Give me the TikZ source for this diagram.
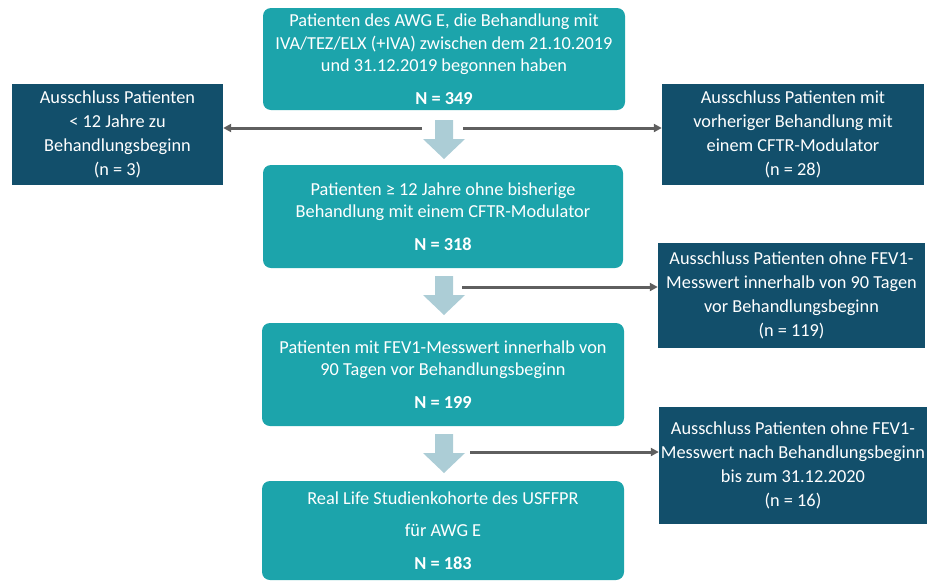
\documentclass[tikz,border=0pt]{standalone}
\usepackage{fontspec}
\setmainfont{Carlito}
\usetikzlibrary{arrows.meta}
\definecolor{mainteal}{RGB}{28,164,171}
\definecolor{exclblue}{RGB}{18,79,107}
\definecolor{flowgray}{RGB}{95,95,95}
\definecolor{arrowlight}{RGB}{172,205,214}
\tikzset{
  mainbox/.style={fill=mainteal, text=white, rounded corners=8pt, align=center, inner sep=0pt, font=\fontsize{18.3}{22.5}\selectfont},
  exclbox/.style={fill=exclblue, text=white, align=center, inner sep=0pt, font=\fontsize{18.3}{24}\selectfont},
  exclline/.style={draw=flowgray, line width=3pt, -{Triangle[length=8pt,width=8pt]}}
}
\begin{document}
\begin{tikzpicture}[x=1pt,y=-1pt]
\useasboundingbox (0,0) rectangle (932,582);
\node[mainbox, minimum width=362pt, minimum height=102pt] (start) at (444,59) {Patienten des AWG E, die Behandlung mit\\IVA/TEZ/ELX (+IVA) zwischen dem 21.10.2019\\und 31.12.2019 begonnen haben\\[10pt]\textbf{N = 349}};
\node[mainbox, minimum width=360pt, minimum height=103pt] (noprior) at (443,216.5) {Patienten ≥ 12 Jahre ohne bisherige\\Behandlung mit einem CFTR-Modulator\\[10pt]\textbf{N = 318}};
\node[mainbox, minimum width=362pt, minimum height=103pt] (withfev) at (443,374.5) {Patienten mit FEV1-Messwert innerhalb von\\90 Tagen vor Behandlungsbeginn\\[10pt]\textbf{N = 199}};
\node[mainbox, minimum width=362pt, minimum height=99pt] (cohort) at (443,530.5) {Real Life Studienkohorte des USFFPR\\[10pt]f\"ur AWG E\\[10pt]\textbf{N = 183}};
\node[exclbox, minimum width=211pt, minimum height=101pt] (exage) at (117.5,134.5) {Ausschluss Patienten\\< 12 Jahre zu\\Behandlungsbeginn\\(n = 3)};
\node[exclbox, minimum width=262pt, minimum height=101pt] (exprior) at (793,134.5) {Ausschluss Patienten mit\\vorheriger Behandlung mit\\einem CFTR-Modulator\\(n = 28)};
\node[exclbox, minimum width=267pt, minimum height=105pt] (exbase) at (791.5,295.5) {Ausschluss Patienten ohne FEV1-\\Messwert innerhalb von 90 Tagen\\vor Behandlungsbeginn\\(n = 119)};
\node[exclbox, minimum width=268pt, minimum height=117pt] (exfollow) at (793,465.5) {Ausschluss Patienten ohne FEV1-\\Messwert nach Behandlungsbeginn\\bis zum 31.12.2020\\(n = 16)};
\foreach \y in {120,276,434}
  \fill[arrowlight] (435,\y) -- (453,\y) -- (453,\y+19) -- (465,\y+19) -- (444,\y+39) -- (423,\y+19) -- (435,\y+19) -- cycle;
\coordinate (splitl) at (422,128);
\coordinate (splitr) at (463,128);
\coordinate (basestart) at (462,287);
\coordinate (followstart) at (470,452);
\draw[exclline] (splitl) -- (exage.east |- splitl);
\draw[exclline] (splitr) -- (exprior.west |- splitr);
\draw[exclline] (basestart) -- (exbase.west |- basestart);
\draw[exclline] (followstart) -- (exfollow.west |- followstart);
\end{tikzpicture}
\end{document}
